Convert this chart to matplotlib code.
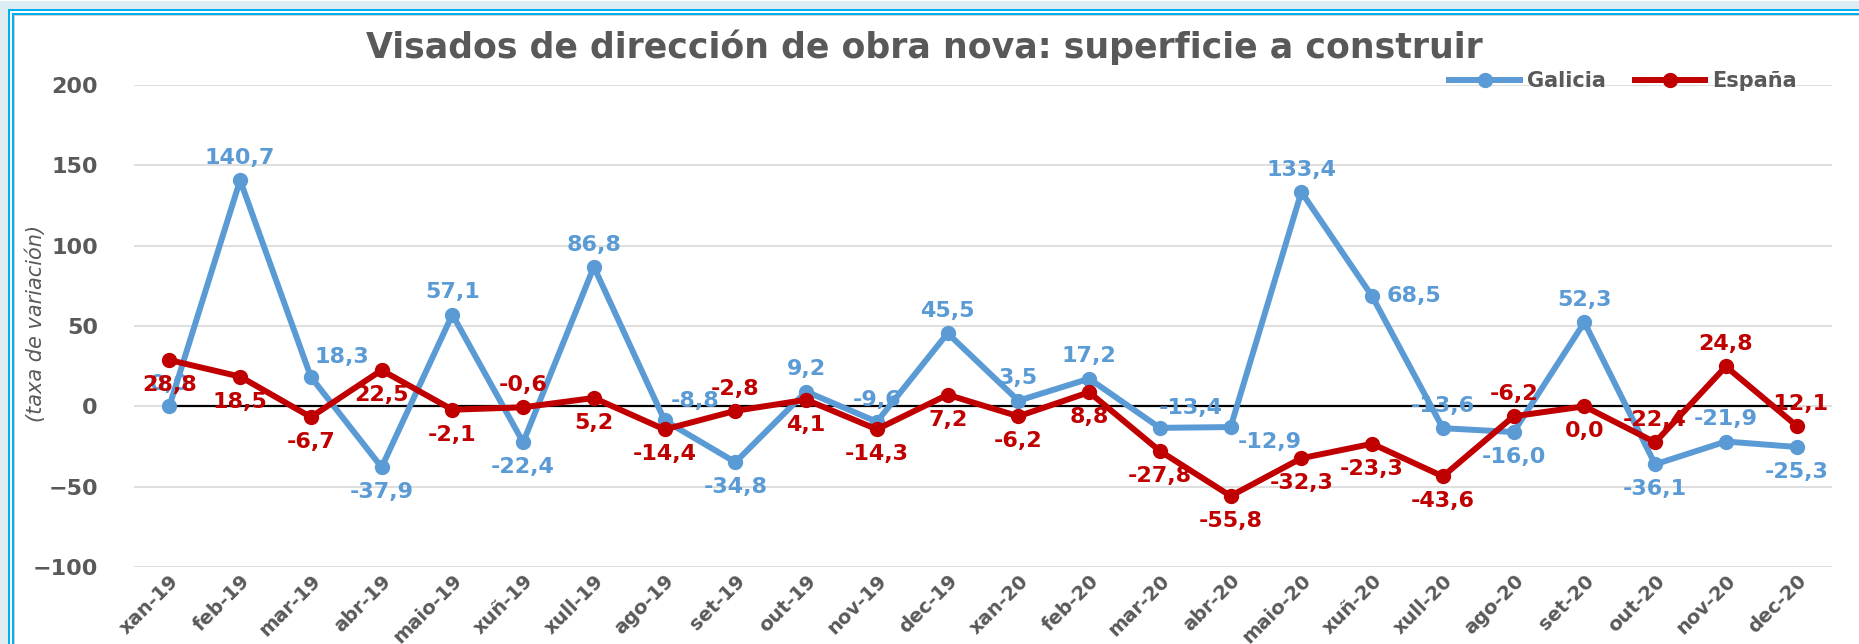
import matplotlib
matplotlib.use("Agg")
import matplotlib.pyplot as plt
from matplotlib.patches import Rectangle
from matplotlib.lines import Line2D

months = ["xan-19", "feb-19", "mar-19", "abr-19", "maio-19", "xuñ-19", "xull-19", "ago-19",
          "set-19", "out-19", "nov-19", "dec-19", "xan-20", "feb-20", "mar-20", "abr-20",
          "maio-20", "xuñ-20", "xull-20", "ago-20", "set-20", "out-20", "nov-20", "dec-20"]

galicia = [0.0, 140.7, 18.3, -37.9, 57.1, -22.4, 86.8, -8.8, -34.8, 9.2, -9.6, 45.5,
           3.5, 17.2, -13.4, -12.9, 133.4, 68.5, -13.6, -16.0, 52.3, -36.1, -21.9, -25.3]
espana = [28.8, 18.5, -6.7, 22.5, -2.1, -0.6, 5.2, -14.4, -2.8, 4.1, -14.3, 7.2,
          -6.2, 8.8, -27.8, -55.8, -32.3, -23.3, -43.6, -6.2, 0.0, -22.4, 24.8, -12.1]

yticks = [-100, -50, 0, 50, 100, 150, 200]

# label placement per point: a=above, b=below, ar=above-right, br=below-right, r=right
gal_pos = ["a", "a", "ar", "b", "a", "b", "a", "ar", "b", "a", "a", "a",
           "a", "a", "ar", "br", "a", "r", "a", "b", "a", "b", "a", "b"]
esp_pos = ["b", "b", "b", "b", "b", "a", "b", "b", "a", "b", "b", "b",
           "b", "b", "b", "b", "b", "b", "b", "a", "b", "a", "a", "a"]

OFFS = {"a": (0, 16), "b": (0, -18), "ar": (22, 14), "br": (28, -11), "r": (30, 0)}

BLUE = "#5B9BD5"
RED = "#C00000"
GREY = "#595959"
CYAN = "#00B0F0"

W, H = 1859, 644
fig = plt.figure(figsize=(W / 100, H / 100), dpi=100)
fig.patch.set_facecolor("white")


def fx(px):
    return px / W


def fy(py):
    return 1 - py / H


# frame: light blue margin + double cyan border along top and left edges
frame = [(0, "#DCEDF4"), (8, CYAN), (10, "white"), (12, CYAN), (14, "#D0D0D0"), (15, "white")]
for i, (off, col) in enumerate(frame):
    fig.patches.append(Rectangle((fx(off), -0.5), 2, fy(off + 1) + 0.5,
                                 transform=fig.transFigure, facecolor=col,
                                 edgecolor="none", zorder=-10 + i))

ax = fig.add_axes([fx(134), 1 - 567 / H, (1832 - 134) / W, (567 - 85) / H])
ax.set_facecolor("none")

x = list(range(len(months)))
ax.set_xlim(-0.5, len(months) - 0.5)
ax.set_ylim(-100, 200)
ax.set_yticks(yticks)
ax.grid(axis="y", color="#D9D9D9", linewidth=1.2)
ax.set_axisbelow(True)
for s in ax.spines.values():
    s.set_visible(False)
ax.hlines(0, x[0], x[-1], color="black", linewidth=1.6, zorder=2)

ax.plot(x, galicia, color=BLUE, linewidth=4.3, marker="o", markersize=10,
        solid_capstyle="round", zorder=3, label="Galicia")
ax.plot(x, espana, color=RED, linewidth=4.3, marker="o", markersize=10,
        solid_capstyle="round", zorder=4, label="España")


def fmt(v):
    return f"{v:.1f}".replace(".", ",")


for xi, v, p in zip(x, galicia, gal_pos):
    ax.annotate(fmt(v), (xi, v), xytext=OFFS[p], textcoords="offset points",
                ha="center", va="center", color=BLUE, fontsize=16,
                fontweight="bold", zorder=5)
for xi, v, p in zip(x, espana, esp_pos):
    ax.annotate(fmt(v), (xi, v), xytext=OFFS[p], textcoords="offset points",
                ha="center", va="center", color=RED, fontsize=16,
                fontweight="bold", zorder=6)

ax.set_xticks(x)
ax.set_xticklabels(months, rotation=45, ha="right", rotation_mode="anchor")
ax.tick_params(axis="x", length=0, pad=3, labelsize=14, labelcolor=GREY)
ax.tick_params(axis="y", length=0, pad=26, labelsize=16, labelcolor=GREY)
for lab in ax.get_xticklabels() + ax.get_yticklabels():
    lab.set_fontweight("bold")

fig.text(fx(36), fy(323), "(taxa de variación)", rotation=90, ha="center", va="center",
         fontsize=15, style="italic", color=GREY,
         family=["Liberation Sans Narrow", "DejaVu Sans"])

fig.text(0.497, fy(47), "Visados de dirección de obra nova: superficie a construir",
         ha="center", va="center", fontsize=25, fontweight="bold", color=GREY)

handles = [Line2D([], [], color=BLUE, linewidth=4.3, marker="o", markersize=10),
           Line2D([], [], color=RED, linewidth=4.3, marker="o", markersize=10)]
leg = ax.legend(handles, ["Galicia", "España"], loc="center right",
                bbox_to_anchor=(0.99, 1.008), ncol=2, frameon=False,
                handlelength=3.4, handletextpad=0.3, columnspacing=1.4,
                prop={"weight": "bold", "size": 15})
for t in leg.get_texts():
    t.set_color(GREY)

fig.savefig("out.png", dpi=100, facecolor=fig.get_facecolor())
